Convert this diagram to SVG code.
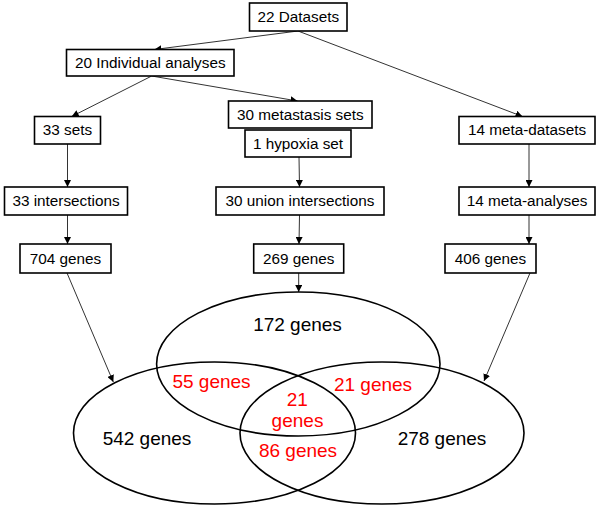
<svg xmlns="http://www.w3.org/2000/svg" width="600" height="508" viewBox="0 0 600 508">
<defs>
<style>
.box{fill:#fff;stroke:#000;stroke-width:1.6}
.bt{font-family:"Liberation Sans",Arial,sans-serif;font-size:15.3px;fill:#000;text-anchor:middle}
.ln{stroke:#333;stroke-width:1;fill:none;marker-end:url(#ah)}
.ell{fill:none;stroke:#000;stroke-width:1.6}
.vt{font-family:"Liberation Sans",Arial,sans-serif;font-size:19px;text-anchor:middle}
.blk{fill:#000}
.red{fill:#ff0000}
</style>
<marker id="ah" viewBox="0 0 10 10" refX="10" refY="5" markerWidth="7" markerHeight="7" markerUnits="userSpaceOnUse" orient="auto">
<path d="M0,0 L10,5 L0,10 z" fill="#000"/>
</marker>
</defs>
<rect width="600" height="508" fill="#fff"/>
<g id="connectors">
<line class="ln" x1="298" y1="31" x2="154.5" y2="49.5"/>
<line class="ln" x1="298" y1="31" x2="522.5" y2="116.5"/>
<line class="ln" x1="151.7" y1="76" x2="71.7" y2="116.5"/>
<line class="ln" x1="151.7" y1="76" x2="297.5" y2="101"/>
<line class="ln" x1="67.5" y1="144" x2="67.5" y2="187"/>
<line class="ln" x1="299" y1="157" x2="299.5" y2="187"/>
<line class="ln" x1="529" y1="144" x2="529" y2="187"/>
<line class="ln" x1="67.5" y1="215" x2="67.5" y2="244"/>
<line class="ln" x1="299.5" y1="215" x2="299" y2="244"/>
<line class="ln" x1="529" y1="215" x2="529" y2="244"/>
<line class="ln" x1="67" y1="273" x2="113.3" y2="382"/>
<line class="ln" x1="298.7" y1="273" x2="298.7" y2="292"/>
<line class="ln" x1="530" y1="273" x2="484" y2="381"/>
</g>
<g id="n22datasets"><rect class="box" x="249.5" y="3" width="97.5" height="28"/><text class="bt" x="298.3" y="21.5">22 Datasets</text></g>
<g id="n20individual"><rect class="box" x="66.5" y="49.5" width="167.5" height="26.5"/><text class="bt" x="150.3" y="67.7">20 Individual analyses</text></g>
<g id="n30metastasis"><rect class="box" x="228.5" y="101" width="143.5" height="27"/><text class="bt" x="300.3" y="119.8">30 metastasis sets</text></g>
<g id="n1hypoxia"><rect class="box" x="245" y="130" width="106" height="27"/><text class="bt" x="298" y="148.5">1 hypoxia set</text></g>
<g id="n33sets"><rect class="box" x="34.5" y="116.5" width="66" height="27.5"/><text class="bt" x="67.5" y="135.3">33 sets</text></g>
<g id="n14metadatasets"><rect class="box" x="459" y="116.5" width="136" height="27.5"/><text class="bt" x="527" y="135.3">14 meta-datasets</text></g>
<g id="n33intersections"><rect class="box" x="4.5" y="187" width="123" height="28"/><text class="bt" x="66" y="205.7">33 intersections</text></g>
<g id="n30union"><rect class="box" x="216" y="187" width="168" height="28"/><text class="bt" x="300" y="205.7">30 union intersections</text></g>
<g id="n14metaanalyses"><rect class="box" x="459" y="187" width="136" height="28"/><text class="bt" x="527" y="205.7">14 meta-analyses</text></g>
<g id="n704genes"><rect class="box" x="20" y="244" width="91" height="29"/><text class="bt" x="65.5" y="263.8">704 genes</text></g>
<g id="n269genes"><rect class="box" x="253.7" y="244" width="90" height="29"/><text class="bt" x="298.7" y="263.8">269 genes</text></g>
<g id="n406genes"><rect class="box" x="445" y="244" width="91" height="29"/><text class="bt" x="490.5" y="263.8">406 genes</text></g>
<g id="venn">
<ellipse class="ell" cx="298.3" cy="364" rx="141.7" ry="72"/>
<ellipse class="ell" cx="214.5" cy="433" rx="141" ry="71"/>
<ellipse class="ell" cx="382" cy="433" rx="142" ry="71"/>
<text class="vt blk" x="297.5" y="330.7">172 genes</text>
<text class="vt red" x="211.5" y="388.3">55 genes</text>
<text class="vt red" x="373" y="390.5">21 genes</text>
<text class="vt red" x="297.3" y="406">21</text>
<text class="vt red" x="297.5" y="426.7">genes</text>
<text class="vt blk" x="147" y="445">542 genes</text>
<text class="vt blk" x="442" y="445">278 genes</text>
<text class="vt red" x="298" y="457.3">86 genes</text>
</g>
</svg>
